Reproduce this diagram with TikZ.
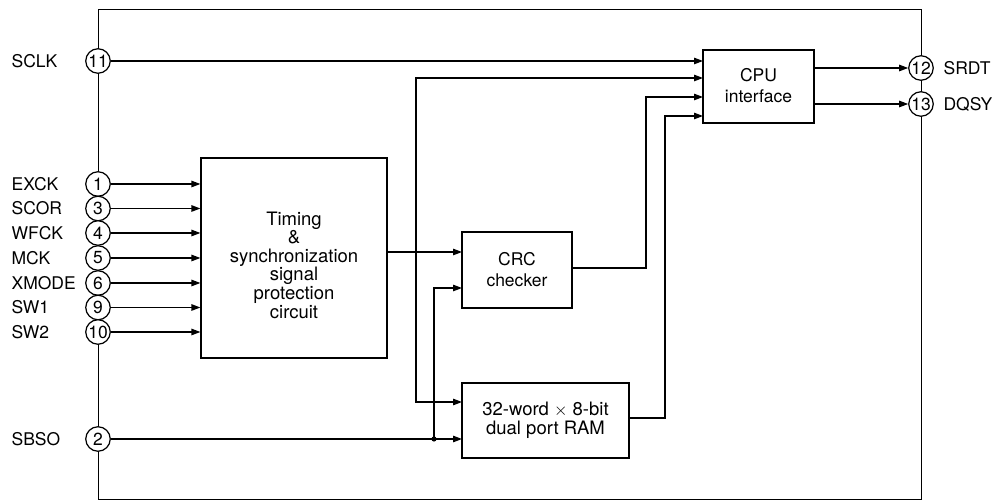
\documentclass[tikz,border=0pt]{standalone}
\usepackage{fontspec}
\setmainfont{TeX Gyre Heros}
\usetikzlibrary{arrows.meta}
\begin{document}
\begin{tikzpicture}[x=1pt,y=-1pt,
  line width=1.2pt,
  arr/.style={-{Triangle[length=9pt,width=6.5pt]}},
  arrboth/.style={{Triangle[length=9pt,width=6.5pt]}-{Triangle[length=9pt,width=6.5pt]}},
  pin/.style={circle,draw,fill=white,minimum size=24.5pt,inner sep=0pt,font=\fontsize{17.5}{18}\selectfont},
  lbl/.style={anchor=west,inner sep=0pt,font=\fontsize{17.5}{19}\selectfont},
  blk/.style={draw,inner sep=0pt},
  bigtxt/.style={align=center,inner sep=0pt,font=\fontsize{18.5}{18.6}\selectfont},
  smalltxt/.style={align=center,inner sep=0pt,font=\fontsize{17.5}{21}\selectfont}]
\useasboundingbox (0,0) rectangle (997,502);

% chip outline
\node[draw,anchor=north west,inner sep=0pt,minimum width=823pt,minimum height=490pt] (chip) at (98,9) {};

% blocks
\node[blk,minimum width=186pt,minimum height=200pt] (timing) at (294,258) {};
\node[bigtxt] (timingtxt) at (294,265) {Timing\\\&\\synchronization\\signal\\protection\\circuit};
\node[blk,minimum width=110pt,minimum height=76pt] (crc) at (517,270) {};
\node[smalltxt] (crctxt) at (517,270) {CRC\\checker};
\node[blk,minimum width=111pt,minimum height=73pt] (cpu) at (758.5,86.5) {};
\node[smalltxt] (cputxt) at (758.5,86) {CPU\\interface};
\node[blk,minimum width=167pt,minimum height=75pt] (ram) at (545.5,420.5) {};
\node[bigtxt] (ramtxt) at (545.5,420) {32-word $\times$ 8-bit\\dual port RAM};

% pins (left)
\node[pin] (p11) at (98,61) {11};
\node[pin] (p1)  at (98,184) {1};
\node[pin] (p3)  at (98,208.5) {3};
\node[pin] (p4)  at (98,233) {4};
\node[pin] (p5)  at (98,258) {5};
\node[pin] (p6)  at (98,283) {6};
\node[pin] (p9)  at (98,307.5) {9};
\node[pin] (p10) at (98,332) {10};
\node[pin] (p2)  at (98,439) {2};
% pins (right)
\node[pin] (p12) at (921,68) {12};
\node[pin] (p13) at (921,104) {13};

% pin labels
\node[lbl] (l11) at (11,61) {SCLK};
\node[lbl] (l1)  at (11,184) {EXCK};
\node[lbl] (l3)  at (11,208.5) {SCOR};
\node[lbl] (l4)  at (11,233) {WFCK};
\node[lbl] (l5)  at (11,258) {MCK};
\node[lbl] (l6)  at (11,283) {XMODE};
\node[lbl] (l9)  at (11,307.5) {SW1};
\node[lbl] (l10) at (11,332) {SW2};
\node[lbl] (l2)  at (11,439) {SBSO};
\node[lbl] (l12) at (943,68) {SRDT};
\node[lbl] (l13) at (943,104) {DQSY};

% connection points
\coordinate (cpuIn1) at (703,61);
\coordinate (cpuIn2) at (703,78);
\coordinate (cpuIn3) at (703,97);
\coordinate (cpuIn4) at (703,116);
\coordinate (cpuOut1) at (814,68);
\coordinate (cpuOut2) at (814,104);
\coordinate (timOut) at (387,252);
\coordinate (crcIn1) at (462,252);
\coordinate (crcIn2) at (462,288);
\coordinate (crcOut) at (572,268);
\coordinate (ramIn1) at (462,402);
\coordinate (ramIn2) at (462,439);
\coordinate (ramOut) at (629,418);
\coordinate (dot) at (434,439);

% connectors
\draw[arr] (p11) -- (cpuIn1);
\foreach \p in {p1,p3,p4,p5,p6,p9,p10}
  \draw[arr] (\p) -- (timing.west |- \p);
\draw[arr] (timOut) -- (crcIn1);
\draw[arrboth] (cpuIn2) -| (416,402) -- (ramIn1);
\draw[arr] (p2) -- (ramIn2);
\draw[arr] (dot) |- (crcIn2);
\fill (dot) circle (2.6pt);
\draw[arr] (crcOut) -- ++(74,0) |- (cpuIn3);
\draw[arr] (ramOut) -- ++(36,0) |- (cpuIn4);
\draw[arr] (cpuOut1) -- (p12);
\draw[arr] (cpuOut2) -- (p13);
\end{tikzpicture}
\end{document}
